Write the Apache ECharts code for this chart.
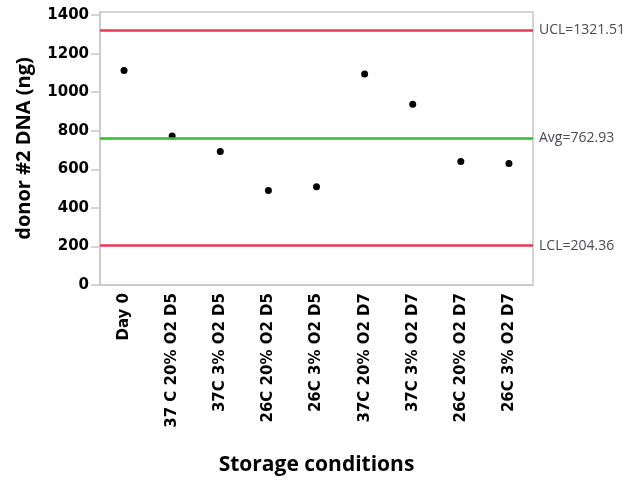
<!DOCTYPE html>
<html><head><meta charset="utf-8">
<script src="https://cdn.jsdelivr.net/npm/echarts@6/dist/echarts.min.js"></script>
<style>html,body{margin:0;padding:0;background:#fff}#c{width:633px;height:485px}</style>
</head><body><div id="c"></div>
<script>
const categories = ['Day 0','37 C 20% O2 D5','37C 3% O2 D5','26C 20% O2 D5','26C 3% O2 D5','37C 20% O2 D7','37C 3% O2 D7','26C 20% O2 D7','26C 3% O2 D7'];
const dnaValues = [1113, 773, 692, 490, 509, 1094, 937, 640, 630];
const yTicks = [0,200,400,600,800,1000,1200,1400];
const ucl = 1321.51, avg = 762.93, lcl = 204.36;
const limitLabels = ['UCL=1321.51','Avg=762.93','LCL=204.36'];

const font = '"Open Sans", "Noto Sans", sans-serif';
const wide = '"DejaVu Sans", sans-serif';
const chart = echarts.init(document.getElementById('c'), null, {renderer:'canvas'});
chart.setOption({
  animation:false,
  backgroundColor:'#fff',
  grid:{left:100,right:100,top:12,bottom:200,show:true,borderColor:'#c8c8c8',borderWidth:1.5},
  xAxis:{type:'category',data:categories,boundaryGap:true,
    axisLine:{lineStyle:{color:'#c8c8c8',width:1.5}},
    axisTick:{alignWithLabel:true,length:4,lineStyle:{color:'#c8c8c8'}},
    axisLabel:{rotate:90,color:'#000',fontWeight:'bold',fontSize:15,fontFamily:wide,margin:8,interval:0},
    name:'Storage conditions',nameLocation:'middle',nameGap:170,
    nameTextStyle:{color:'#000',fontWeight:'bold',fontSize:21,fontFamily:font}},
  yAxis:{type:'value',min:0,max:1416,
    axisLine:{show:true,lineStyle:{color:'#c8c8c8',width:1.5}},
    axisTick:{show:true,length:9,customValues:yTicks,lineStyle:{color:'#c8c8c8',width:1.5}},
    axisLabel:{customValues:yTicks,formatter:v=>String(v),color:'#000',fontWeight:'bold',fontSize:15,fontFamily:wide,margin:11},
    splitLine:{show:false},
    name:'donor #2 DNA (ng)',nameLocation:'middle',nameGap:66,
    nameTextStyle:{color:'#000',fontWeight:'bold',fontSize:20,fontFamily:font}},
  series:[{type:'scatter',data:dnaValues,symbolSize:7,itemStyle:{color:'#000',opacity:1},
    markLine:{silent:true,symbol:'none',
      label:{position:'end',distance:6,color:'#4a4a55',fontSize:14,fontFamily:font},
      data:[
        {yAxis:ucl,lineStyle:{color:'#e63a50',width:2.5,type:'solid'},label:{formatter:limitLabels[0]}},
        {yAxis:avg,lineStyle:{color:'#2fbf2f',width:2.5,type:'solid'},label:{formatter:limitLabels[1]}},
        {yAxis:lcl,lineStyle:{color:'#e63a50',width:2.5,type:'solid'},label:{formatter:limitLabels[2]}}
      ]}}]
});
</script></body></html>
